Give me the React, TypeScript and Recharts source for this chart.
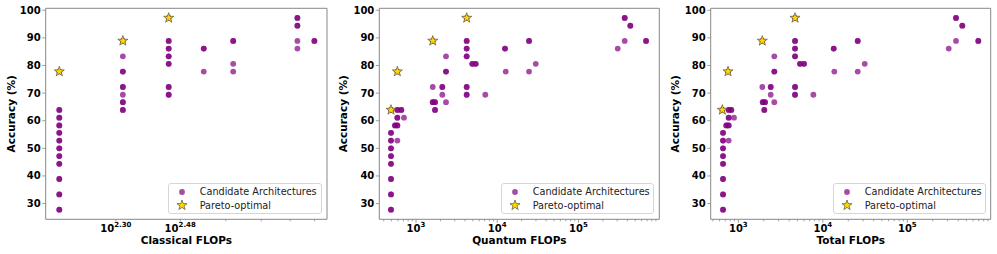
import React from 'react';
import { ScatterChart, Scatter, XAxis, YAxis, ReferenceArea, Legend, Label } from 'recharts';

const FONT = '"DejaVu Sans", sans-serif';
const PURPLE = '#800080';
const GOLD = '#FFD700';
const SPINE = '#888888';

// ---------- data ----------
const accuracyTicks = [30, 40, 50, 60, 70, 80, 90, 100];
const accuracyDomain: [number, number] = [24.3, 100.7];

// [FLOPs, accuracies at that FLOPs (repeated values = overlapping architectures)]
const classicalColumns: [number, number[]][] = [
  [140, [27.8, 27.8, 33.3, 33.3, 38.9, 38.9, 44.4, 44.4, 47.2, 47.2, 50, 50, 52.8, 52.8, 55.6, 55.6, 58.3, 58.3, 61.1, 61.1, 63.9, 63.9, 77.8]],
  [209, [63.9, 63.9, 66.7, 66.7, 69.4, 72.2, 72.2, 77.8, 77.8, 83.3, 88.9]],
  [279, [69.4, 69.4, 72.2, 72.2, 80.6, 80.6, 83.3, 83.3, 86.1, 86.1, 88.9, 88.9, 97.2]],
  [348, [77.8, 86.1, 86.1]],
  [419, [77.8, 80.6, 88.9, 88.9]],
  [628, [86.1, 88.9, 94.4, 94.4, 97.2, 97.2]],
  [699, [88.9, 88.9]],
];
const classicalPareto: [number, number][] = [[140, 77.8], [209, 88.9], [279, 97.2]];

const quantumColumns: [number, number[]][] = [
  [492, [27.8, 27.8, 33.3, 33.3, 38.9, 38.9, 44.4, 44.4, 47.2, 47.2, 50, 50, 52.8, 52.8, 55.6, 55.6, 63.9]],
  [551, [58.3, 58.3]],
  [589, [52.8, 58.3, 58.3, 61.1, 61.1, 63.9, 63.9, 77.8]],
  [659, [63.9, 63.9]],
  [711, [61.1]],
  [1606, [66.7, 66.7, 72.2, 88.9]],
  [1714, [63.9, 63.9, 66.7, 66.7]],
  [2108, [69.4, 72.2, 72.2]],
  [2340, [66.7, 77.8, 77.8, 83.3]],
  [4206, [69.4, 69.4, 72.2, 72.2, 83.3, 83.3, 86.1, 86.1, 88.9, 88.9, 97.2]],
  [4933, [80.6, 80.6]],
  [5432, [80.6, 80.6]],
  [7134, [69.4]],
  [12470, [86.1, 86.1]],
  [12730, [77.8]],
  [24660, [77.8, 88.9, 88.9]],
  [29800, [80.6]],
  [304800, [86.1]],
  [371500, [88.9, 97.2, 97.2]],
  [435600, [94.4, 94.4]],
  [680800, [88.9, 88.9]],
];
const quantumPareto: [number, number][] = [[492, 63.9], [589, 77.8], [1606, 88.9], [4206, 97.2]];

const totalColumns: [number, number[]][] = [
  [659, [27.8, 27.8, 33.3, 33.3, 38.9, 38.9, 44.4, 44.4, 47.2, 47.2, 50, 50, 52.8, 52.8, 55.6, 55.6]],
  [647, [63.9]],
  [721, [58.3, 58.3]],
  [769, [52.8, 58.3, 58.3, 61.1, 61.1, 63.9, 63.9]],
  [755, [77.8]],
  [826, [63.9, 63.9]],
  [889, [61.1]],
  [1923, [72.2, 88.9]],
  [1946, [66.7, 66.7]],
  [2031, [63.9, 63.9]],
  [2070, [66.7, 66.7]],
  [2417, [69.4, 72.2, 72.2]],
  [2666, [66.7, 77.8, 77.8, 83.3]],
  [4690, [69.4, 69.4, 72.2, 72.2, 83.3, 83.3, 86.1, 86.1, 88.9, 88.9, 97.2]],
  [5372, [80.6, 80.6]],
  [5993, [80.6, 80.6]],
  [7727, [69.4]],
  [13460, [86.1, 86.1]],
  [13680, [77.8]],
  [25880, [77.8, 88.9, 88.9]],
  [31330, [80.6]],
  [309000, [86.1]],
  [377000, [88.9, 97.2, 97.2]],
  [447600, [94.4, 94.4]],
  [692000, [88.9, 88.9]],
];
const totalPareto: [number, number][] = [[647, 63.9], [755, 77.8], [1923, 88.9], [4690, 97.2]];

// tick values and labels (superscript exponents)
const classicalTicks = [200, 300, 400, 500, 600, 700];
const classicalTickLabels: Record<number, string> = { 200: '2.30', 300: '2.48' };
const classicalMajor: number[] = [];

const quantumTicks = [
  400, 500, 600, 700, 800, 900, 1000,
  2000, 3000, 4000, 5000, 6000, 7000, 8000, 9000, 10000,
  20000, 30000, 40000, 50000, 60000, 70000, 80000, 90000, 100000,
  200000, 300000, 400000, 500000, 600000, 700000, 800000, 900000,
];
const totalTicks = [
  500, 600, 700, 800, 900, 1000,
  2000, 3000, 4000, 5000, 6000, 7000, 8000, 9000, 10000,
  20000, 30000, 40000, 50000, 60000, 70000, 80000, 90000, 100000,
  200000, 300000, 400000, 500000, 600000, 700000, 800000, 900000,
];
const decadeLabels: Record<number, string> = { 1000: '3', 10000: '4', 100000: '5' };
const decadeMajor = [1000, 10000, 100000];

const seriesNames = ['Candidate Architectures', 'Pareto-optimal'];

// ---------- helpers ----------
const toPoints = (cols: [number, number[]][]) =>
  cols.flatMap(([f, accs]) => accs.map((a) => ({ flops: f, acc: a })));
const toPareto = (pts: [number, number][]) => pts.map(([f, a]) => ({ flops: f, acc: a }));

const starPath = (cx: number, cy: number, R: number, r: number) => {
  let d = '';
  for (let i = 0; i < 10; i++) {
    const rad = i % 2 === 0 ? R : r;
    const ang = -Math.PI / 2 + (i * Math.PI) / 5;
    d += (i === 0 ? 'M' : 'L') + (cx + rad * Math.cos(ang)).toFixed(2) + ',' + (cy + rad * Math.sin(ang)).toFixed(2);
  }
  return d + 'Z';
};

const Dot = (props: any) => {
  const { cx, cy } = props;
  if (cx == null || cy == null) return null;
  return <circle cx={cx} cy={cy} r={2.9} fill={PURPLE} fillOpacity={0.7} />;
};

const Star = (props: any) => {
  const { cx, cy } = props;
  if (cx == null || cy == null) return null;
  return <path d={starPath(cx, cy, 5.3, 2.1)} fill={GOLD} stroke="#3a3a3a" strokeWidth={0.6} />;
};

const LogTick = (props: any) => {
  const { x, y, payload, labels, majors } = props;
  const v = payload.value;
  const label = labels[v];
  const len = majors.includes(v) ? 3.5 : 2;
  return (
    <g>
      <line x1={x} x2={x} y1={y} y2={y + len} stroke={SPINE} strokeWidth={0.8} />
      {label && (
        <text x={x} y={y + 12.2} textAnchor="middle" fontFamily={FONT} fontWeight="bold" fill="#000">
          <tspan fontSize={10}>10</tspan>
          <tspan fontSize={7} dy={-5}>{label}</tspan>
        </text>
      )}
    </g>
  );
};

const LegendBox = () => (
  <div
    style={{
      position: 'relative',
      boxSizing: 'border-box',
      width: 153.3,
      height: 31.3,
      border: '1px solid #d6d6d6',
      borderRadius: 3,
      background: 'rgba(255,255,255,0.8)',
    }}
  >
    <svg width={153.3} height={31.3} style={{ position: 'absolute', left: -1, top: -1, overflow: 'visible' }}>
      <circle cx={14} cy={9} r={2.9} fill={PURPLE} fillOpacity={0.7} />
      <path d={starPath(14, 22.3, 5.3, 2.1)} fill={GOLD} stroke="#3a3a3a" strokeWidth={0.6} />
      <text x={31.7} y={9} dy="0.35em" fontFamily={FONT} fontSize={9.7} fill="#222">{seriesNames[0]}</text>
      <text x={31.7} y={22.3} dy="0.35em" fontFamily={FONT} fontSize={9.7} fill="#222">{seriesNames[1]}</text>
    </svg>
  </div>
);

type PanelCfg = {
  left: number;
  width: number;
  plotLeft: number;
  plotRight: number;
  domain: [number, number];
  ticks: number[];
  labels: Record<number, string>;
  majors: number[];
  yTitleX: number;
  legendLeft: number;
  xTitle: string;
  points: { flops: number; acc: number }[];
  pareto: { flops: number; acc: number }[];
};

const PLOT_TOP = 8.3;
const PLOT_BOTTOM = 219.3;
const H = 254;

const Panel = ({ p }: { p: PanelCfg }) => {
  const yAxisW = p.plotLeft - p.left;
  const rightMargin = p.width - (p.plotRight - p.left);
  const xCenter = (p.plotLeft + p.plotRight) / 2 - p.left;
  const yCenter = (PLOT_TOP + PLOT_BOTTOM) / 2;
  const yTitleX = p.yTitleX - p.left;
  return (
    <div style={{ position: 'absolute', left: p.left, top: 0, width: p.width, height: H }}>
      <ScatterChart width={p.width} height={H} margin={{ top: PLOT_TOP, right: rightMargin, bottom: 0, left: 0 }}>
        <XAxis
          type="number"
          dataKey="flops"
          scale="log"
          domain={p.domain}
          allowDataOverflow
          ticks={p.ticks}
          interval={0}
          tickSize={0}
          tickMargin={0}
          tickLine={false}
          axisLine={false}
          height={H - PLOT_BOTTOM}
          tick={(tp: any) => <LogTick {...tp} labels={p.labels} majors={p.majors} />}
        >
          <Label
            content={() => (
              <text x={xCenter} y={240.7} dy="0.35em" textAnchor="middle" fontFamily={FONT} fontWeight="bold" fontSize={10.5} fill="#000">
                {p.xTitle}
              </text>
            )}
          />
        </XAxis>
        <YAxis
          type="number"
          dataKey="acc"
          domain={accuracyDomain}
          allowDataOverflow
          ticks={accuracyTicks}
          interval={0}
          width={yAxisW}
          tickSize={3.5}
          tickMargin={1.5}
          axisLine={false}
          tickLine={{ stroke: SPINE, strokeWidth: 0.8 }}
          tick={{ fontSize: 10, fontWeight: 'bold', fill: '#000', fontFamily: FONT }}
        >
          <Label
            content={() => (
              <text
                x={yTitleX}
                y={yCenter}
                dy="0.35em"
                textAnchor="middle"
                transform={`rotate(-90, ${yTitleX}, ${yCenter})`}
                fontFamily={FONT}
                fontWeight="bold"
                fontSize={10.5}
                fill="#000"
              >
                Accuracy (%)
              </text>
            )}
          />
        </YAxis>
        <ReferenceArea
          x1={p.domain[0]}
          x2={p.domain[1]}
          y1={accuracyDomain[0]}
          y2={accuracyDomain[1]}
          fill="none"
          fillOpacity={0}
          stroke={SPINE}
          strokeWidth={1}
          ifOverflow="visible"
        />
        <Scatter name={seriesNames[0]} data={p.points} shape={Dot} isAnimationActive={false} />
        <Scatter name={seriesNames[1]} data={p.pareto} shape={Star} isAnimationActive={false} />
        <Legend
          layout="vertical"
          align="center"
          verticalAlign="middle"
          wrapperStyle={{ left: p.legendLeft - p.left, top: 182.7, width: 153.3, height: 31.3, margin: 0, padding: 0 }}
          content={() => <LegendBox />}
        />
      </ScatterChart>
    </div>
  );
};

const panels: PanelCfg[] = [
  {
    left: 0, width: 330, plotLeft: 45.7, plotRight: 327,
    domain: [128.5, 756.8], ticks: classicalTicks, labels: classicalTickLabels, majors: classicalMajor,
    yTitleX: 11.7, legendLeft: 168.3, xTitle: 'Classical FLOPs',
    points: toPoints(classicalColumns), pareto: toPareto(classicalPareto),
  },
  {
    left: 330, width: 330, plotLeft: 379.3, plotRight: 659.3,
    domain: [353, 990800], ticks: quantumTicks, labels: decadeLabels, majors: decadeMajor,
    yTitleX: 343.3, legendLeft: 501, xTitle: 'Quantum FLOPs',
    points: toPoints(quantumColumns), pareto: toPareto(quantumPareto),
  },
  {
    left: 660, width: 337, plotLeft: 710.7, plotRight: 990.7,
    domain: [471, 970000], ticks: totalTicks, labels: decadeLabels, majors: decadeMajor,
    yTitleX: 675, legendLeft: 832.7, xTitle: 'Total FLOPs',
    points: toPoints(totalColumns), pareto: toPareto(totalPareto),
  },
];

export default function App() {
  return (
    <div style={{ position: 'absolute', left: 0, top: 0, width: 997, height: H, background: '#fff', overflow: 'hidden' }}>
      {panels.map((p, i) => (
        <Panel key={i} p={p} />
      ))}
    </div>
  );
}
